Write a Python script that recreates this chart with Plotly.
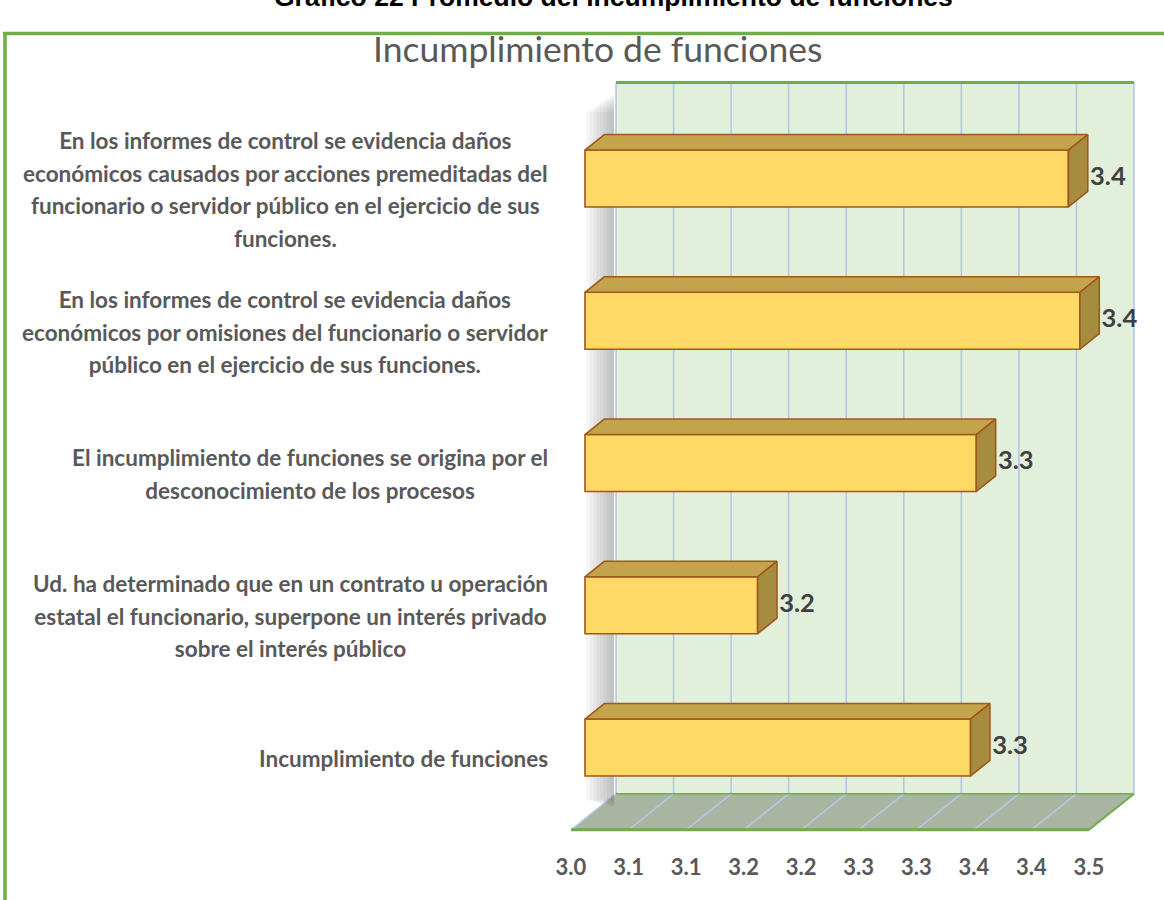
import plotly.graph_objects as go

# Datos del gráfico (de abajo hacia arriba, como en el eje de categorías)
categorias = [
    "Incumplimiento de funciones",
    "Ud. ha determinado que en un contrato u operación<br>estatal el funcionario, superpone un interés privado<br>sobre el interés público",
    "El incumplimiento de funciones se origina por el<br>desconocimiento de los procesos",
    "En los informes de control se evidencia daños<br>económicos por omisiones del funcionario o servidor<br>público en el ejercicio de sus funciones.",
    "En los informes de control se evidencia daños<br>económicos causados por acciones premeditadas del<br>funcionario o servidor público en el ejercicio de sus<br>funciones.",
]
promedios = [3.335, 3.15, 3.34, 3.43, 3.42]
etiquetas_valor = ["3.3", "3.2", "3.3", "3.4", "3.4"]
ticks_x = [3.00, 3.05, 3.10, 3.15, 3.20, 3.25, 3.30, 3.35, 3.40, 3.45]
ticks_texto = ["3.0", "3.1", "3.1", "3.2", "3.2", "3.3", "3.3", "3.4", "3.4", "3.5"]

BASE = ticks_x[0]
X_MAX = ticks_x[-1]

# geometria del efecto 3D (profundidad en unidades de los ejes)
DX = 0.0391      # desplazamiento horizontal de toda la profundidad
DY = 0.2531      # desplazamiento vertical de toda la profundidad
D_FRONT = 0.31   # profundidad de la cara frontal de las barras
D_BACK = 0.74    # profundidad de la cara trasera de las barras
HALF = 0.2       # media altura de barra

X_RANGE = [2.9783, 3.4909]
Y_RANGE = [-0.7206, 4.7627]

FW, FH = 1164, 900
L, R, T, B = 560, 14, 70, 50
W, H = FW - L - R, FH - T - B

GREEN = "#70ad47"
GRID = "#b4c7e7"
BROWN = "#a0581c"
GRAY = "#595959"


def pt(v, i, d):
    return v + (d - D_FRONT) * DX, i + (d - D_FRONT) * DY


def path(points):
    return "M " + " L ".join("{:.5f},{:.5f}".format(x, y) for x, y in points) + " Z"


# conversiones desde pixeles de la figura
def paper_x(p):
    return (p - L) / W


def paper_y(p):
    return 1 - (p - T) / H


def data_x(p):
    return X_RANGE[0] + paper_x(p) * (X_RANGE[1] - X_RANGE[0])


def data_y(p):
    return Y_RANGE[0] + paper_y(p) * (Y_RANGE[1] - Y_RANGE[0])


y_low = -0.5
y_high = len(categorias) - 0.5
idx = list(range(len(categorias)))

shapes = []

# pared del fondo
wx0, wy0 = pt(BASE, y_low, 1)
wx1, wy1 = pt(X_MAX, y_high, 1)
shapes.append(dict(type="rect", x0=wx0, x1=wx1, y0=wy0, y1=wy1,
                   fillcolor="#e2efda", line=dict(width=0), layer="below"))
for v in ticks_x:
    gx, gy0 = pt(v, y_low, 1)
    _, gy1 = pt(v, y_high, 1)
    shapes.append(dict(type="line", x0=gx, x1=gx, y0=gy0, y1=gy1,
                       line=dict(color=GRID, width=1.6), layer="below"))
shapes.append(dict(type="line", x0=wx0, x1=wx1, y0=wy1, y1=wy1,
                   line=dict(color=GREEN, width=3), layer="below"))

# piso
f0 = pt(BASE, y_low, 0)
f1 = pt(X_MAX, y_low, 0)
f2 = pt(X_MAX, y_low, 1)
f3 = pt(BASE, y_low, 1)
shapes.append(dict(type="path", path=path([f0, f1, f2, f3]),
                   fillcolor="#a9b5a0", line=dict(width=0), layer="below"))
for v in ticks_x:
    a = pt(v, y_low, 0)
    b = pt(v, y_low, 1)
    shapes.append(dict(type="line", x0=a[0], y0=a[1], x1=b[0], y1=b[1],
                       line=dict(color=GRID, width=1.6), layer="below"))
shapes.append(dict(type="line", x0=f3[0], y0=f3[1], x1=f2[0], y1=f2[1],
                   line=dict(color=GREEN, width=1.5), layer="below"))
shapes.append(dict(type="line", x0=f0[0], y0=f0[1], x1=f1[0], y1=f1[1],
                   line=dict(color=GREEN, width=3), layer="below"))
shapes.append(dict(type="line", x0=f1[0], y0=f1[1], x1=f2[0], y1=f2[1],
                   line=dict(color=GREEN, width=2), layer="below"))

# sombra de la pared lateral
for k in range(8):
    shapes.append(dict(type="rect",
                       x0=data_x(586 + 3.5 * k), x1=data_x(614),
                       y0=data_y(800 + 1.0 * k), y1=data_y(112 - 2.5 * k),
                       fillcolor="#606060", opacity=0.06,
                       line=dict(width=0), layer="below"))

# borde del area del grafico
shapes.append(dict(type="line", xref="paper", yref="paper",
                   x0=paper_x(3), x1=paper_x(1170), y0=paper_y(33.5), y1=paper_y(33.5),
                   line=dict(color=GREEN, width=3.5)))
shapes.append(dict(type="line", xref="paper", yref="paper",
                   x0=paper_x(5), x1=paper_x(5), y0=paper_y(32), y1=paper_y(905),
                   line=dict(color=GREEN, width=3.5)))

fig = go.Figure()

# cara frontal de las barras
fig.add_trace(go.Bar(
    y=idx, x=[v - BASE for v in promedios], base=BASE, orientation="h", width=2 * HALF,
    marker=dict(color="#ffd966", line=dict(color=BROWN, width=1.6)),
    hoverinfo="skip", showlegend=False))

# etiquetas de valor
fig.add_trace(go.Scatter(
    x=[pt(v, i, D_BACK)[0] + 0.002 for v, i in zip(promedios, idx)], y=idx,
    mode="text", text=etiquetas_valor, textposition="middle right",
    textfont=dict(family="Lato", size=25.5, color="#404040", weight="bold"),
    hoverinfo="skip", showlegend=False))

# caras superior y lateral
for v, i in zip(promedios, idx):
    top = [pt(BASE, i + HALF, D_FRONT), pt(v, i + HALF, D_FRONT),
           pt(v, i + HALF, D_BACK), pt(BASE, i + HALF, D_BACK)]
    side = [pt(v, i - HALF, D_FRONT), pt(v, i + HALF, D_FRONT),
            pt(v, i + HALF, D_BACK), pt(v, i - HALF, D_BACK)]
    for poly, color in ((top, "#c3a34b"), (side, "#a68c3f")):
        xs = [p[0] for p in poly] + [poly[0][0]]
        ys = [p[1] for p in poly] + [poly[0][1]]
        fig.add_trace(go.Scatter(x=xs, y=ys, mode="lines", fill="toself",
                                 fillcolor=color, line=dict(color=BROWN, width=1.6),
                                 hoverinfo="skip", showlegend=False))

annotations = []
for cat, i in zip(categorias, idx):
    lines = cat.split("<br>")
    text = "<br>".join("<span style='font-size:22.5px'>{}</span>".format(l) for l in lines)
    annotations.append(dict(
        text=text, xref="paper", x=0, xshift=-10, xanchor="right",
        yref="y", y=pt(BASE, i, 0)[1], yanchor="middle", align="center",
        showarrow=False,
        font=dict(family="Lato", size=25, color=GRAY, weight="bold")))

annotations.append(dict(
    text="Incumplimiento de funciones", xref="paper", yref="paper",
    x=paper_x(597), y=paper_y(48), xanchor="center", yanchor="middle",
    showarrow=False, font=dict(family="Lato", size=35.5, color=GRAY)))
annotations.append(dict(
    text="Gráfico 22 Promedio del incumplimiento de funciones", xref="paper", yref="paper",
    x=paper_x(613), y=paper_y(13), xanchor="center", yanchor="bottom", borderpad=0,
    showarrow=False, font=dict(family="Liberation Sans", size=26.5, color="black", weight="bold")))

fig.update_layout(
    width=FW, height=FH,
    margin=dict(l=L, r=R, t=T, b=B),
    paper_bgcolor="white", plot_bgcolor="white",
    shapes=shapes, annotations=annotations,
    showlegend=False,
    xaxis=dict(range=X_RANGE, tickvals=ticks_x, ticktext=ticks_texto,
               showgrid=False, zeroline=False, showline=False, ticks="",
               ticklabelshift=-14, ticklabelstandoff=2,
               tickfont=dict(family="Lato", size=22, color=GRAY, weight="bold")),
    yaxis=dict(range=Y_RANGE, visible=False),
)

# sin margen de pagina, la figura ocupa la ventana completa
fig.write_html("out.html", config={"displayModeBar": False},
               post_script="document.body.style.margin = '0px';")
